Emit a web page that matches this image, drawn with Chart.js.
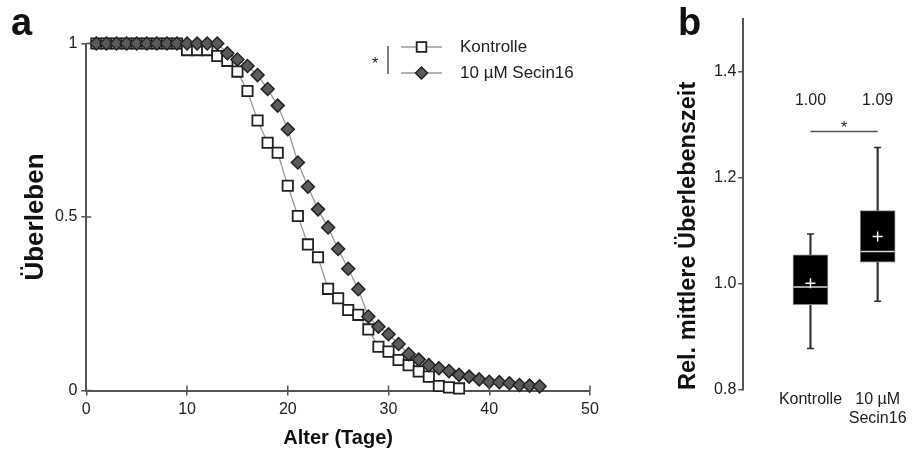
<!DOCTYPE html>
<html>
<head>
<meta charset="utf-8">
<script src="https://cdn.jsdelivr.net/npm/chart.js@4.4.1/dist/chart.umd.min.js"></script>
<style>
  html, body { margin: 0; padding: 0; background: #fff; }
  #wrap { position: relative; width: 919px; height: 455px; overflow: hidden; font-family: "Liberation Sans", Arial, sans-serif; }
  #survival { position: absolute; left: 0; top: 0; width: 650px; height: 455px; }
  #lifespan { position: absolute; left: 650px; top: 0; width: 269px; height: 455px; }
  .panel { position: absolute; font-weight: bold; font-size: 38px; line-height: 1; color: #111; }
</style>
</head>
<body>
<div id="wrap">
  <canvas id="survival" width="650" height="455"></canvas>
  <canvas id="lifespan" width="269" height="455"></canvas>
  <div class="panel" style="left:11px;top:3px">a</div>
  <div class="panel" style="left:678px;top:3px">b</div>
</div>
<script>
// --- panel a: survival curves ---
const ageDays = [1, 2, 3, 4, 5, 6, 7, 8, 9, 10, 11, 12, 13, 14, 15, 16, 17, 18, 19, 20,
  21, 22, 23, 24, 25, 26, 27, 28, 29, 30, 31, 32, 33, 34, 35, 36, 37, 38, 39, 40,
  41, 42, 43, 44, 45];
const controlSurvival = [1, 1, 1, 1, 1, 1, 1, 1, 1, 0.981, 0.981, 0.981, 0.964, 0.950,
  0.919, 0.863, 0.778, 0.714, 0.685, 0.590, 0.503, 0.421, 0.384, 0.293, 0.266, 0.232,
  0.218, 0.176, 0.126, 0.112, 0.088, 0.073, 0.055, 0.040, 0.013, 0.009, 0.006];
const secinSurvival = [1, 1, 1, 1, 1, 1, 1, 1, 1, 1, 1, 1, 1, 0.972, 0.954, 0.935,
  0.909, 0.869, 0.821, 0.753, 0.657, 0.587, 0.522, 0.470, 0.408, 0.351, 0.292, 0.213,
  0.184, 0.162, 0.134, 0.105, 0.089, 0.073, 0.064, 0.056, 0.045, 0.040, 0.032, 0.025,
  0.024, 0.021, 0.016, 0.014, 0.012];
const survivalTicks = [0, 0.5, 1];
const seriesNames = ['Kontrolle', '10 µM Secin16'];

// --- panel b: relative mean lifespan ---
const groupNames = ['Kontrolle', ['10 µM', 'Secin16']];
const groupPos = [1, 2];
const whiskerLow = [0.878, 0.967];
const quart1 = [0.961, 1.041];
const medians = [0.994, 1.061];
const quart3 = [1.0545, 1.138];
const whiskerHigh = [1.094, 1.257];
const means = [1.001, 1.089];
const sigLevel = 1.287;
const lifespanTicks = [0.8, 1.0, 1.2, 1.4];

Chart.defaults.font.family = '"Liberation Sans", Arial, sans-serif';
Chart.defaults.color = '#222';

const axisColor = '#555';
const fontFam = '"Liberation Sans", Arial, sans-serif';

// tick marks cross the axis: draw the inner half
const innerTicks = {
  id: 'innerTicks',
  afterDraw(chart) {
    const {ctx, chartArea} = chart;
    const x = chart.scales.x, y = chart.scales.y;
    ctx.save();
    ctx.strokeStyle = axisColor;
    ctx.lineWidth = 1.5;
    x.ticks.forEach(t => {
      const px = x.getPixelForValue(t.value);
      ctx.beginPath(); ctx.moveTo(px, chartArea.bottom); ctx.lineTo(px, chartArea.bottom - 5); ctx.stroke();
    });
    y.ticks.forEach(t => {
      const py = y.getPixelForValue(t.value);
      ctx.beginPath(); ctx.moveTo(chartArea.left, py); ctx.lineTo(chartArea.left + 5, py); ctx.stroke();
    });
    ctx.restore();
  }
};

const survivalLegend = {
  id: 'survivalLegend',
  afterDraw(chart) {
    const ctx = chart.ctx;
    ctx.save();
    ctx.fillStyle = '#222';
    ctx.font = '16px ' + fontFam;
    ctx.textAlign = 'center';
    ctx.textBaseline = 'alphabetic';
    ctx.fillText('*', 375, 69);
    ctx.strokeStyle = '#555';
    ctx.lineWidth = 1.5;
    ctx.beginPath(); ctx.moveTo(388, 46); ctx.lineTo(388, 74); ctx.stroke();
    chart.data.datasets.forEach((ds, i) => {
      const yy = 47 + i * 26;
      ctx.strokeStyle = ds.borderColor;
      ctx.lineWidth = ds.borderWidth;
      ctx.beginPath(); ctx.moveTo(401, yy); ctx.lineTo(442, yy); ctx.stroke();
      ctx.fillStyle = ds.pointBackgroundColor;
      ctx.strokeStyle = ds.pointBorderColor;
      ctx.lineWidth = ds.pointBorderWidth;
      Chart.helpers.drawPoint(ctx, {pointStyle: ds.pointStyle, radius: ds.pointRadius - 0.5, borderWidth: ds.pointBorderWidth, rotation: 0}, 421.5, yy);
      ctx.fillStyle = '#222';
      ctx.font = '17px ' + fontFam;
      ctx.textAlign = 'left';
      ctx.textBaseline = 'middle';
      ctx.fillText(ds.label, 460, yy);
    });
    ctx.restore();
  }
};

new Chart(document.getElementById('survival'), {
  type: 'line',
  data: {
    datasets: [{
      label: seriesNames[0],
      data: controlSurvival.map((v, i) => ({x: ageDays[i], y: v})),
      borderColor: '#9a9a9a',
      borderWidth: 1.3,
      pointStyle: 'rect',
      pointRadius: 7.3,
      pointBackgroundColor: '#fff',
      pointBorderColor: '#222',
      pointBorderWidth: 1.8,
      tension: 0,
      clip: false,
      order: 1
    }, {
      label: seriesNames[1],
      data: secinSurvival.map((v, i) => ({x: ageDays[i], y: v})),
      borderColor: '#9a9a9a',
      borderWidth: 1.3,
      pointStyle: 'rectRot',
      pointRadius: 6.5,
      pointBackgroundColor: '#5a5a5a',
      pointBorderColor: '#222',
      pointBorderWidth: 1.5,
      tension: 0,
      clip: false,
      order: 0
    }]
  },
  options: {
    responsive: false,
    animation: false,
    layout: {padding: {left: 0, top: 43.5, right: 60, bottom: 0}},
    plugins: {legend: {display: false}, tooltip: {enabled: false}},
    scales: {
      x: {
        type: 'linear', min: 0, max: 50,
        ticks: {stepSize: 10, padding: 4, font: {size: 16}, color: '#222'},
        grid: {drawOnChartArea: false, tickLength: 5, color: axisColor, lineWidth: 1.5},
        border: {color: axisColor, width: 2},
        title: {display: true, text: 'Alter (Tage)', font: {size: 20, weight: 'bold'}, color: '#111', padding: {top: 4, bottom: 5}},
        afterFit: s => { s.height = 64.5; }
      },
      y: {
        type: 'linear', min: 0, max: 1,
        afterBuildTicks: s => { s.ticks = survivalTicks.map(v => ({value: v})); },
        ticks: {padding: 4, font: {size: 16}, color: '#222', callback: v => String(v)},
        grid: {drawOnChartArea: false, tickLength: 5, color: axisColor, lineWidth: 1.5},
        border: {color: axisColor, width: 2},
        title: {display: true, text: 'Überleben', font: {size: 26, weight: 'bold'}, color: '#111', padding: {top: 20, bottom: 0}},
        afterFit: s => { s.width = 86.3; }
      }
    }
  },
  plugins: [innerTicks, survivalLegend]
});

const lifespanNotes = {
  id: 'lifespanNotes',
  afterDatasetsDraw(chart) {
    const {ctx} = chart;
    const x = chart.scales.x, y = chart.scales.y;
    ctx.save();
    ctx.fillStyle = '#222';
    ctx.font = '16px ' + fontFam;
    ctx.textAlign = 'center';
    ctx.textBaseline = 'middle';
    means.forEach((m, i) => {
      ctx.fillText(m.toFixed(2), x.getPixelForValue(groupPos[i]), y.getPixelForValue(1.345));
    });
    ctx.textBaseline = 'alphabetic';
    ctx.fillText('*', x.getPixelForValue((groupPos[0] + groupPos[1]) / 2), y.getPixelForValue(sigLevel) + 1);
    ctx.restore();
  }
};

new Chart(document.getElementById('lifespan'), {
  type: 'bar',
  data: {
    datasets: [{
      type: 'bar',
      data: groupPos.map((p, i) => ({x: p, y: [whiskerLow[i], whiskerHigh[i]]})),
      backgroundColor: '#333',
      barThickness: 1.5,
      grouped: false,
      order: 5
    }, {
      type: 'scatter',
      data: groupPos.flatMap((p, i) => [{x: p, y: whiskerLow[i]}, {x: p, y: whiskerHigh[i]}]),
      pointStyle: 'line',
      pointRadius: 3.5,
      borderColor: '#333',
      borderWidth: 1.5,
      order: 4
    }, {
      type: 'bar',
      data: groupPos.map((p, i) => ({x: p, y: [quart1[i], quart3[i]]})),
      backgroundColor: '#000',
      borderColor: '#888',
      borderWidth: 1,
      borderSkipped: false,
      barThickness: 35,
      grouped: false,
      order: 3
    }, {
      type: 'scatter',
      data: groupPos.map((p, i) => ({x: p, y: medians[i]})),
      pointStyle: 'line',
      pointRadius: 17,
      borderColor: '#d8d8d8',
      borderWidth: 1.5,
      order: 2
    }, {
      type: 'scatter',
      data: groupPos.map((p, i) => ({x: p, y: means[i]})),
      pointStyle: 'cross',
      pointRadius: 5,
      borderColor: '#fff',
      borderWidth: 1.5,
      order: 1
    }, {
      type: 'line',
      data: groupPos.map(p => ({x: p, y: sigLevel})),
      borderColor: '#555',
      borderWidth: 1.5,
      pointRadius: 0,
      order: 0
    }]
  },
  options: {
    responsive: false,
    animation: false,
    layout: {padding: {left: 0, top: 17.7, right: 0, bottom: 0}},
    plugins: {legend: {display: false}, tooltip: {enabled: false}},
    scales: {
      x: {
        type: 'linear', min: 0, max: 2.34, offset: false,
        afterBuildTicks: s => { s.ticks = groupPos.map(v => ({value: v})); },
        ticks: {autoSkip: false, maxRotation: 0, padding: 0, font: {size: 16}, color: '#222',
          callback: (v, i) => groupNames[i]},
        grid: {display: false, drawTicks: false, offset: false},
        border: {display: false},
        afterFit: s => { s.height = 65; }
      },
      y: {
        type: 'linear', min: 0.8, max: 1.5,
        afterBuildTicks: s => { s.ticks = lifespanTicks.map(v => ({value: v})); },
        ticks: {padding: 2, font: {size: 16}, color: '#222', callback: v => v.toFixed(1)},
        grid: {drawOnChartArea: false, tickLength: 5, color: axisColor, lineWidth: 1.5},
        border: {color: axisColor, width: 2},
        title: {display: true, text: 'Rel. mittlere Überlebenszeit', align: 'start', font: {size: 23.5, weight: 'bold'}, color: '#111', padding: {top: 24, bottom: 0}},
        afterFit: s => { s.width = 93.3; }
      }
    }
  },
  plugins: [lifespanNotes]
});
</script>
</body>
</html>
